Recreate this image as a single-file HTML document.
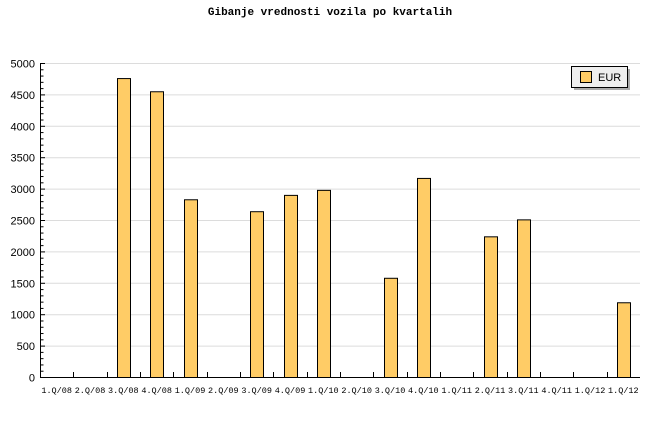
<!DOCTYPE html>
<html><head><style>body{margin:0;background:#fff}</style></head><body>
<svg width="660" height="440" xmlns="http://www.w3.org/2000/svg">
<text x="330" y="15" text-anchor="middle" font-family="Liberation Mono, monospace" font-weight="bold" font-size="11">Gibanje vrednosti vozila po kvartalih</text>
<g id="grid" stroke="#dcdcdc" stroke-width="1"></g>
<g id="bars"></g>
<g id="axis" stroke="#000" stroke-width="1"></g>
<g id="lbl" font-family="Liberation Sans, sans-serif" font-size="11" text-anchor="end"></g>
<g id="xl" font-family="Liberation Mono, monospace" font-size="8.5" text-anchor="middle"></g>
<rect x="574" y="69" width="56" height="21" fill="#aaa"/>
<rect x="571.5" y="66.5" width="56" height="21" fill="#eee" stroke="#000"/>
<rect x="580.5" y="71.5" width="11" height="11" fill="#ffcc66" stroke="#000"/>
<text x="598" y="81" font-family="Liberation Sans, sans-serif" font-size="11">EUR</text>
<script>
var ns="http://www.w3.org/2000/svg";
function el(p,t,a,tx){var e=document.createElementNS(ns,t);for(var k in a)e.setAttribute(k,a[k]);if(tx)e.textContent=tx;document.getElementById(p).appendChild(e);}
var y0=377.5,sc=314/5000;
for(var v=500;v<=5000;v+=500){var y=y0-v*sc;el('grid','line',{x1:41,x2:640,y1:y,y2:y});}
for(var v=0;v<=5000;v+=500){el('lbl','text',{x:35,y:y0-v*sc+4},String(v));}
for(var v=0;v<=5000;v+=100){var y=y0-v*sc;el('axis','line',{x1:40.5,x2:v%500?43.5:45,y1:y,y2:y});}
el('axis','line',{x1:40.5,x2:40.5,y1:63,y2:378});
el('axis','line',{x1:40,x2:640,y1:377.5,y2:377.5});
var cw=600/18;
var L=['1.Q/08','2.Q/08','3.Q/08','4.Q/08','1.Q/09','2.Q/09','3.Q/09','4.Q/09','1.Q/10','2.Q/10','3.Q/10','4.Q/10','1.Q/11','2.Q/11','3.Q/11','4.Q/11','1.Q/12','1.Q/12'];
var V=[0,0,4760,4550,2830,0,2640,2900,2980,0,1580,3170,0,2240,2510,0,0,1190];
for(var i=0;i<18;i++){var cx=40+(i+0.5)*cw;
 if(i>0){var tx=Math.round(40+i*cw)+0.5;el('axis','line',{x1:tx,x2:tx,y1:372,y2:378});}
 el('xl','text',{x:cx,y:393},L[i]);
 if(V[i]>0){var h=V[i]*sc;el('bars','rect',{x:Math.round(cx-6.5)+0.5,y:y0-h,width:13,height:h,fill:'#ffcc66',stroke:'#000'});}
}
</script>
</svg>
</body></html>
